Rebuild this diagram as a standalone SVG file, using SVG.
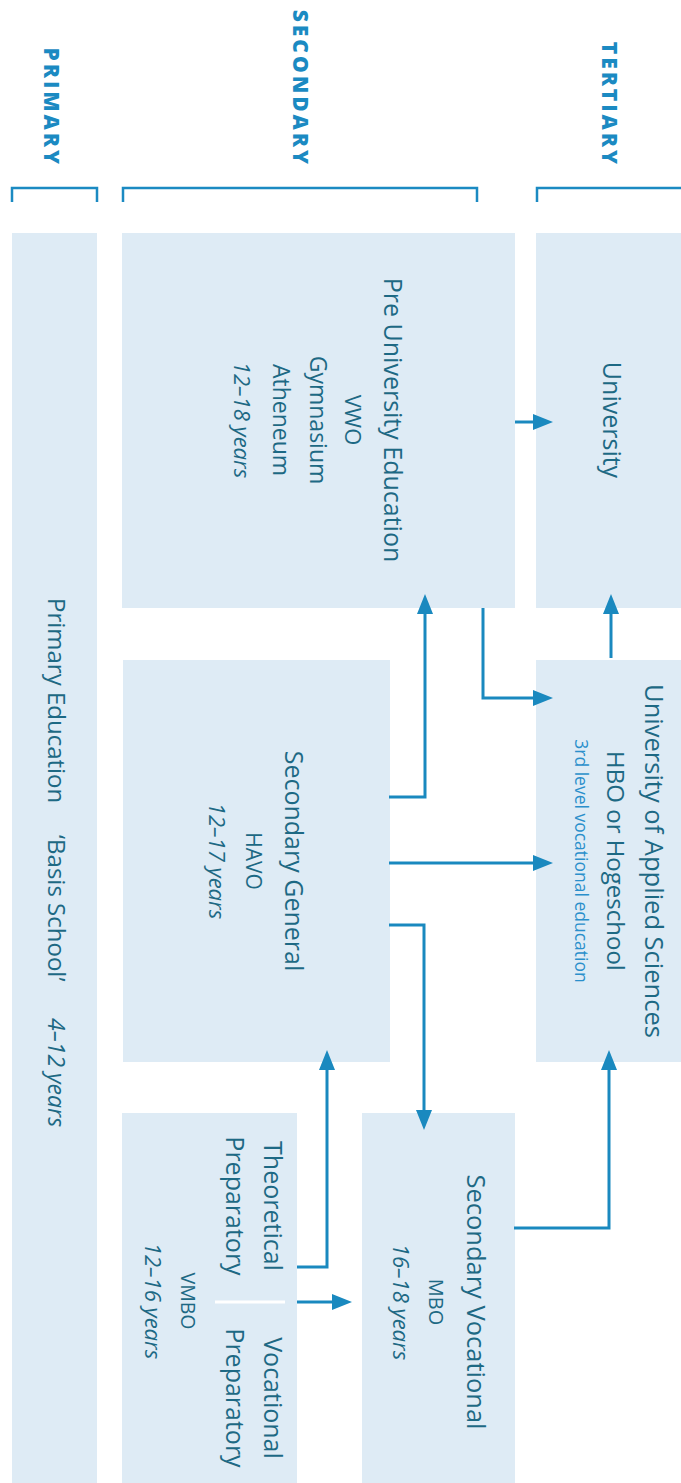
<svg xmlns="http://www.w3.org/2000/svg" width="681" height="1483" viewBox="0 0 681 1483">
<style>
.bg{fill:#ffffff}
.box{fill:#deebf5}
.t{font-family:'Open Sans','Noto Sans',sans-serif;fill:#1d6984;text-anchor:middle;font-weight:500}
.title{font-size:25px}
.sub{font-size:23px}
.acr{font-size:21px}
.yr{font-size:22px;font-style:italic}
.small{font-size:17.5px;fill:#2a8fcb}
.hdr{font-family:'Open Sans','Noto Sans',sans-serif;font-weight:800;font-size:21px;letter-spacing:3px;fill:#1b8ac2;text-anchor:end}
.brk{stroke:#1b8ac2;stroke-width:2.5;fill:none}
.conn{stroke:#1a89bf;stroke-width:3;fill:none;marker-end:url(#ah)}
.div{stroke:#ffffff;stroke-width:3}
</style>
<defs>
<marker id="ah" markerUnits="userSpaceOnUse" markerWidth="20" markerHeight="16" viewBox="0 0 20 16" refX="1" refY="8" orient="auto">
<path d="M0,0 L20,8 L0,16 z" fill="#1a89bf"/>
</marker>
</defs>
<rect class="bg" x="0" y="0" width="681" height="1483"/>

<g id="headers">
<text class="hdr" transform="translate(44,167) rotate(90)">PRIMARY</text>
<text class="hdr" transform="translate(292.5,167) rotate(90)">SECONDARY</text>
<text class="hdr" transform="translate(602,167) rotate(90)">TERTIARY</text>
<path class="brk" d="M12,202 V188 H97 V202"/>
<path class="brk" d="M123,202 V188 H477 V202"/>
<path class="brk" d="M537,202 V188 H681"/>
</g>

<g id="primary">
<rect class="box" x="12" y="233" width="85" height="1250"/>
<text class="t sub" style="text-anchor:start;font-size:24px" transform="translate(48,598) rotate(90)">Primary Education</text>
<text class="t sub" style="text-anchor:start;font-size:24px" transform="translate(48,835) rotate(90)">&#8216;Basis School&#8217;</text>
<text class="t yr" style="text-anchor:start;font-size:23px" transform="translate(48,1018) rotate(90)">4–12 years</text>
</g>

<g id="pre-university">
<rect class="box" x="122" y="233" width="393" height="375"/>
<text class="t title" transform="translate(384,420) rotate(90)">Pre University Education</text>
<text class="t acr" style="font-size:22px" transform="translate(345,420) rotate(90)">VWO</text>
<text class="t sub" transform="translate(310,420) rotate(90)">Gymnasium</text>
<text class="t sub" transform="translate(273,420) rotate(90)">Atheneum</text>
<text class="t yr" transform="translate(234,420) rotate(90)">12–18 years</text>
</g>

<g id="university">
<rect class="box" x="536" y="233" width="145" height="375"/>
<text class="t title" transform="translate(603,420) rotate(90)">University</text>
</g>

<g id="secondary-general">
<rect class="box" x="123" y="660" width="267" height="402"/>
<text class="t title" transform="translate(285,861) rotate(90)">Secondary General</text>
<text class="t acr" transform="translate(246,861) rotate(90)">HAVO</text>
<text class="t yr" transform="translate(209,861) rotate(90)">12–17 years</text>
</g>

<g id="applied-sciences">
<rect class="box" x="536" y="660" width="145" height="402"/>
<text class="t title" style="font-size:25.5px" transform="translate(645,861) rotate(90)">University of Applied Sciences</text>
<text class="t sub" style="font-size:24px" transform="translate(607,861) rotate(90)">HBO or Hogeschool</text>
<text class="t small" transform="translate(575,861) rotate(90)">3rd level vocational education</text>
</g>

<g id="vmbo">
<rect class="box" x="122" y="1113" width="175" height="370"/>
<line class="div" x1="215" y1="1302" x2="285" y2="1302"/>
<text class="t title" transform="translate(264,1206) rotate(90)">Theoretical</text>
<text class="t title" transform="translate(226,1206) rotate(90)">Preparatory</text>
<text class="t title" transform="translate(264,1398) rotate(90)">Vocational</text>
<text class="t title" transform="translate(226,1398) rotate(90)">Preparatory</text>
<text class="t acr" style="font-size:19.5px" transform="translate(181,1301) rotate(90)">VMBO</text>
<text class="t yr" transform="translate(145,1301) rotate(90)">12–16 years</text>
</g>

<g id="mbo">
<rect class="box" x="362" y="1113" width="153" height="370"/>
<text class="t title" style="font-size:25.5px" transform="translate(467,1302) rotate(90)">Secondary Vocational</text>
<text class="t acr" style="font-size:20px" transform="translate(429,1302) rotate(90)">MBO</text>
<text class="t yr" transform="translate(393,1302) rotate(90)">16–18 years</text>
</g>

<g id="connectors">
<path class="conn" d="M515,422 H534"/>
<path class="conn" d="M611,658 V613"/>
<path class="conn" d="M483,608 V698 H534"/>
<path class="conn" d="M389,797 H425 V613"/>
<path class="conn" d="M389,863 H534"/>
<path class="conn" d="M389,925 H424 V1111"/>
<path class="conn" d="M514,1228 H609 V1069"/>
<path class="conn" d="M297,1267 H327 V1069"/>
<path class="conn" d="M297,1302 H333"/>
</g>
</svg>
